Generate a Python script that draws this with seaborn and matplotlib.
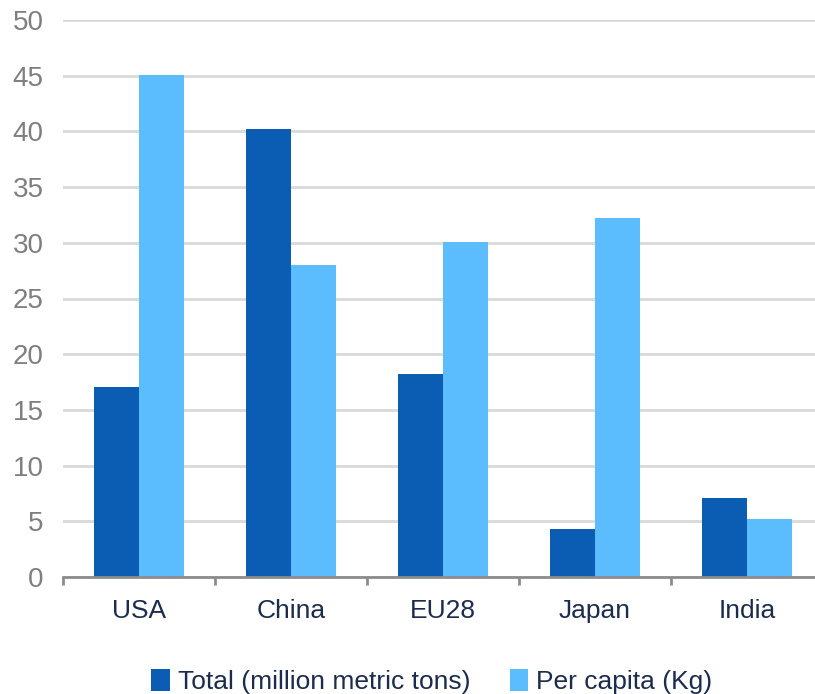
import numpy as np
import pandas as pd
import matplotlib.pyplot as plt
import seaborn as sns

# Chart data
regions = ['USA', 'China', 'EU28', 'Japan', 'India']
total_mt = [17.1, 40.2, 18.2, 4.3, 7.1]
per_capita_kg = [45.1, 28.0, 30.1, 32.2, 5.2]
series_names = ['Total (million metric tons)', 'Per capita (Kg)']

df = pd.DataFrame({
    'region': regions * 2,
    'series': [series_names[0]] * len(regions) + [series_names[1]] * len(regions),
    'value': total_mt + per_capita_kg,
})

sns.set_style('white')
plt.rcParams['font.family'] = ['Liberation Sans', 'DejaVu Sans']

fig = plt.figure(figsize=(8.15, 6.94), dpi=100)
ax = fig.add_axes([63 / 815, 1 - 577 / 694, 760 / 815, 557 / 694])

palette = {series_names[0]: '#0b5db4', series_names[1]: '#5bbdfd'}
sns.barplot(data=df, x='region', y='value', hue='series', palette=palette,
            width=0.59, saturation=1, linewidth=0, ax=ax, legend=True, zorder=3)

ax.set_ylim(0, 50)
ax.set_xlim(-0.5, 4.5)
ax.set_yticks(np.arange(0, 51, 5))
ax.grid(axis='y', color='#d9d9d9', linewidth=2, zorder=0)
ax.set_axisbelow(True)

for side in ['left', 'right', 'top']:
    ax.spines[side].set_visible(False)
ax.spines['bottom'].set_color('#8c8c8c')
ax.spines['bottom'].set_linewidth(2)
ax.spines['bottom'].set_zorder(4)

ax.tick_params(axis='y', length=0, labelsize=20, labelcolor='#7f7f7f', pad=14)
ax.tick_params(axis='x', which='major', length=0, labelsize=19, labelcolor='#1b2c4d', pad=16)
ax.set_xticks(np.arange(-0.5, 5, 1), minor=True)
ax.tick_params(axis='x', which='minor', bottom=True, length=6, width=2,
               color='#8c8c8c', direction='out')
ax.set_xlabel('')
ax.set_ylabel('')

handles, labels = ax.get_legend_handles_labels()
ax.legend_.remove()
leg = fig.legend(handles, labels, loc='center', bbox_to_anchor=(0.53, 0.018),
                 ncol=2, frameon=False, fontsize=19, handlelength=0.7, handleheight=0.9,
                 handletextpad=0.3, columnspacing=1.5, borderaxespad=0)
for t in leg.get_texts():
    t.set_color('#1b2c4d')

fig.savefig('out.png', dpi=100)
